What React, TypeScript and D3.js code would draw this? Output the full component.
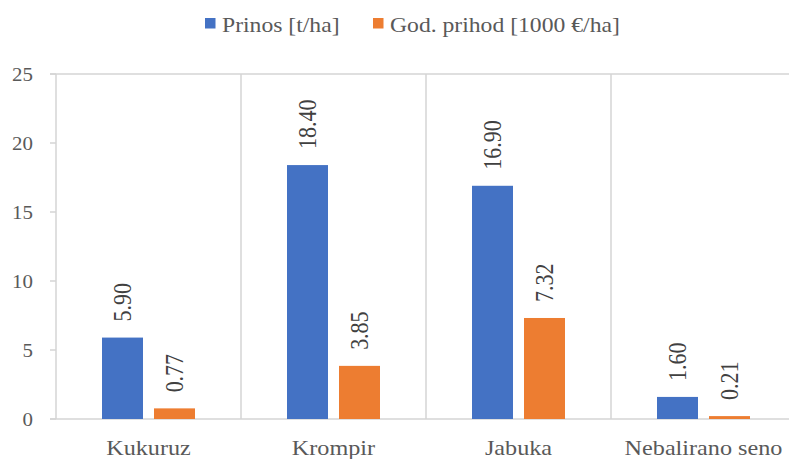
import React from "react";
import * as d3 from "d3";

// Crops and their yield / annual income per hectare
const categories = ["Kukuruz", "Krompir", "Jabuka", "Nebalirano seno"];
const seriesNames = ["Prinos [t/ha]", "God. prihod [1000 €/ha]"];
const prinos = [5.9, 18.4, 16.9, 1.6];
const prihod = [0.77, 3.85, 7.32, 0.21];
const yTicks = [0, 5, 10, 15, 20, 25];

const colors = ["#4472C4", "#ED7D31"];
const W = 789;
const H = 459;
const FONT = "Liberation Serif";
const SX = 1.1; // horizontal text stretch

export default function App() {
  const margin = { top: 74, right: -7, bottom: 40, left: 56 };
  const x = d3
    .scaleBand<string>()
    .domain(categories)
    .range([margin.left, W - margin.right])
    .paddingInner(0)
    .paddingOuter(0);
  const y = d3.scaleLinear().domain([0, 25]).range([H - margin.bottom, margin.top]);
  const xs = d3
    .scaleBand<string>()
    .domain(seriesNames)
    .range([0, x.bandwidth()])
    .paddingInner(0.2115)
    .paddingOuter(0.8846);

  const values = [prinos, prihod];
  const grid = "#d4d4d4";
  const x0 = margin.left;
  const x1 = W - margin.right;
  const yBase = y(0);
  const yTop = y(25);

  return (
    <svg
      width={W}
      height={H}
      style={{ position: "absolute", left: 0, top: 0, background: "#fff", fontFamily: FONT }}
    >
      <rect width={W} height={H} fill="#fff" />
      {/* category separators */}
      {categories.map((c) => (
        <line
          key={"v" + c}
          x1={x(c)!}
          x2={x(c)!}
          y1={yTop}
          y2={yBase}
          stroke={grid}
          strokeWidth={1.5}
        />
      ))}
      {/* top border and baseline */}
      <line x1={x0 - 6} x2={x1} y1={yTop} y2={yTop} stroke={grid} strokeWidth={1.5} />
      <line x1={x0 - 6} x2={x1} y1={yBase} y2={yBase} stroke={grid} strokeWidth={1.5} />
      {/* y ticks */}
      {yTicks.map((t) => (
        <g key={"t" + t}>
          <line x1={x0 - 6} x2={x0} y1={y(t)} y2={y(t)} stroke={grid} strokeWidth={1.5} />
          <text
            transform={`translate(33,${y(t)}) scale(${SX},1)`}
            dy="0.35em"
            textAnchor="end"
            fontSize={19}
            fill="#595959"
            style={{ fontFamily: FONT }}
          >
            {t}
          </text>
        </g>
      ))}
      {/* bars and value labels */}
      {categories.map((c, i) =>
        seriesNames.map((s, j) => {
          const v = values[j][i];
          const bx = x(c)! + xs(s)!;
          const bw = xs.bandwidth();
          const cx = bx + bw / 2;
          return (
            <g key={c + s}>
              <rect x={bx} y={y(v)} width={bw} height={yBase - y(v)} fill={colors[j]} />
              <text
                transform={`translate(${cx},${y(v) - 16}) scale(${SX},1) rotate(-90)`}
                dy="0.35em"
                textAnchor="start"
                fontSize={22}
                fill="#404040"
                style={{ fontFamily: FONT }}
              >
                {v.toFixed(2)}
              </text>
            </g>
          );
        })
      )}
      {/* category labels */}
      {categories.map((c) => (
        <text
          key={"c" + c}
          transform={`translate(${x(c)! + x.bandwidth() / 2},455) scale(${SX},1)`}
          textAnchor="middle"
          fontSize={22}
          fill="#595959"
          style={{ fontFamily: FONT }}
        >
          {c}
        </text>
      ))}
      {/* legend */}
      {seriesNames.map((s, j) => {
        const lx = [205, 373][j];
        return (
          <g key={"l" + s}>
            <rect x={lx} y={18} width={10.5} height={10.5} fill={colors[j]} />
            <text
              transform={`translate(${lx + 17},31.5) scale(${SX},1)`}
              fontSize={21.5}
              fill="#595959"
              style={{ fontFamily: FONT }}
            >
              {s}
            </text>
          </g>
        );
      })}
    </svg>
  );
}
